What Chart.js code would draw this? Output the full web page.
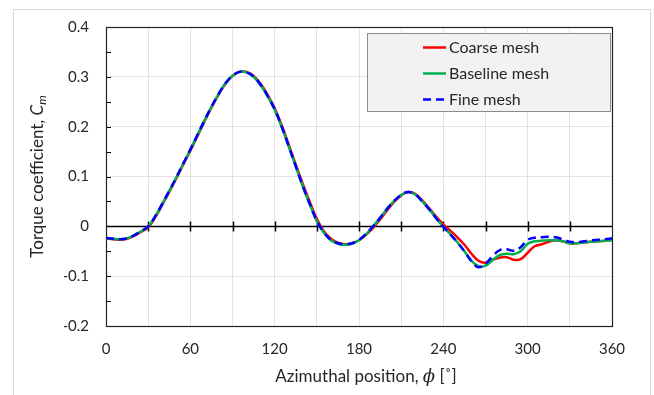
<!DOCTYPE html>
<html>
<head>
<meta charset="utf-8">
<script src="https://cdn.jsdelivr.net/npm/chart.js@4.4.1/dist/chart.umd.min.js"></script>
<style>
  html, body { margin: 0; padding: 0; background: #fff; }
  #wrap { width: 654px; height: 395px; position: relative; }
</style>
</head>
<body>
<div id="wrap"><canvas id="torqueChart"></canvas></div>
<script>
const angles = [0, 5, 10, 15, 20, 25, 30, 35, 40, 45, 50, 55, 60, 65, 70, 75, 80, 85, 90, 95,
  100, 105, 110, 115, 120, 125, 130, 135, 140, 145, 150, 155, 160, 165, 170, 175, 180, 185, 190, 195,
  200, 205, 210, 215, 220, 225, 230, 235, 240, 245, 250, 255, 260, 265, 270, 275, 280, 285, 290, 295,
  300, 305, 310, 315, 320, 325, 330, 335, 340, 345, 350, 355, 360];

const coarse = [-0.024, -0.026, -0.027, -0.025, -0.019, -0.011, -0.002, 0.018, 0.043, 0.069, 0.096, 0.124, 0.152, 0.181, 0.210, 0.238, 0.264, 0.286, 0.302, 0.310,
  0.310, 0.302, 0.286, 0.264, 0.237, 0.203, 0.164, 0.124, 0.085, 0.049, 0.015, -0.010, -0.025, -0.033, -0.036, -0.034, -0.028, -0.017, -0.003, 0.014,
  0.032, 0.049, 0.062, 0.069, 0.065, 0.052, 0.036, 0.019, 0.004, -0.009, -0.022, -0.037, -0.055, -0.069, -0.073, -0.067, -0.063, -0.062, -0.067, -0.066,
  -0.053, -0.040, -0.036, -0.031, -0.028, -0.030, -0.034, -0.034, -0.032, -0.031, -0.030, -0.029, -0.027];

const baseline = [-0.023, -0.025, -0.026, -0.024, -0.018, -0.010, 0.000, 0.020, 0.045, 0.071, 0.098, 0.126, 0.154, 0.183, 0.212, 0.240, 0.265, 0.287, 0.302, 0.310,
  0.309, 0.300, 0.283, 0.261, 0.234, 0.199, 0.160, 0.120, 0.080, 0.044, 0.010, -0.013, -0.028, -0.035, -0.037, -0.035, -0.028, -0.016, 0.000, 0.017,
  0.035, 0.051, 0.063, 0.069, 0.064, 0.050, 0.034, 0.016, -0.001, -0.016, -0.032, -0.050, -0.069, -0.080, -0.079, -0.068, -0.058, -0.055, -0.056, -0.050,
  -0.035, -0.030, -0.029, -0.028, -0.028, -0.030, -0.034, -0.034, -0.032, -0.031, -0.030, -0.029, -0.028];

const fine = [-0.023, -0.025, -0.026, -0.024, -0.018, -0.010, 0.000, 0.020, 0.045, 0.071, 0.098, 0.126, 0.154, 0.183, 0.212, 0.240, 0.265, 0.287, 0.302, 0.310,
  0.309, 0.301, 0.284, 0.262, 0.235, 0.200, 0.161, 0.121, 0.081, 0.045, 0.011, -0.012, -0.027, -0.034, -0.036, -0.034, -0.027, -0.015, 0.000, 0.017,
  0.035, 0.051, 0.063, 0.069, 0.064, 0.050, 0.034, 0.016, -0.001, -0.016, -0.032, -0.050, -0.070, -0.082, -0.075, -0.060, -0.048, -0.046, -0.049, -0.042,
  -0.027, -0.023, -0.022, -0.021, -0.022, -0.026, -0.031, -0.032, -0.030, -0.028, -0.027, -0.026, -0.024];

const seriesLabels = ["Coarse mesh", "Baseline mesh", "Fine mesh"];
const xLabelStep = 60;
const yLabelStep = 0.1;

const FONT = "Lato, 'Open Sans', sans-serif";
const TEXT = "#262626";

const toPoints = (vals) => angles.map((a, i) => ({ x: a, y: vals[i] }));

// frame, zero line, minor ticks, titles, legend
const decorations = {
  id: "decorations",
  beforeDraw(chart) {
    const { ctx } = chart;
    ctx.save();
    ctx.strokeStyle = "#d9d9d9";
    ctx.lineWidth = 1;
    ctx.strokeRect(13.5, 9.5, 637, 400);
    ctx.restore();
  },
  beforeDatasetsDraw(chart) {
    const { ctx, chartArea: a, scales } = chart;
    const x = scales.x, y = scales.y;
    ctx.save();
    ctx.strokeStyle = "#000";
    ctx.lineWidth = 1;
    // minor ticks on the left axis
    for (let v = -0.2; v <= 0.4001; v += 0.05) {
      const py = Math.round(y.getPixelForValue(v)) + 0.5;
      ctx.beginPath();
      ctx.moveTo(a.left, py);
      ctx.lineTo(a.left + 5, py);
      ctx.stroke();
    }
    // zero line with cross ticks
    const y0 = Math.round(y.getPixelForValue(0)) + 0.5;
    ctx.lineWidth = 1.5;
    ctx.beginPath();
    ctx.moveTo(a.left, y0);
    ctx.lineTo(a.right, y0);
    ctx.stroke();
    for (let v = 30; v < 360; v += 30) {
      const px = Math.round(x.getPixelForValue(v)) + 0.5;
      ctx.beginPath();
      ctx.moveTo(px, y0 - 5);
      ctx.lineTo(px, y0 + 5);
      ctx.stroke();
    }
    // plot box
    ctx.lineWidth = 1.2;
    ctx.strokeStyle = "#222";
    ctx.strokeRect(Math.round(a.left) + 0.5, Math.round(a.top) + 0.5,
      Math.round(a.right - a.left), Math.round(a.bottom - a.top));
    ctx.restore();
  },
  afterDraw(chart) {
    const { ctx, chartArea: a } = chart;
    ctx.save();
    ctx.fillStyle = TEXT;
    ctx.textBaseline = "middle";

    // x title
    const xParts = [
      { t: "Azimuthal position, ", f: "17px " + FONT },
      { t: "\u03d5", f: "italic 18px 'DejaVu Serif', serif" },
      { t: " [\u02da]", f: "17px " + FONT },
    ];
    let w = 0;
    xParts.forEach((p) => { ctx.font = p.f; w += ctx.measureText(p.t).width; });
    let cx = 366 - w / 2;
    xParts.forEach((p) => {
      ctx.font = p.f;
      ctx.textAlign = "left";
      ctx.fillText(p.t, cx, 377);
      cx += ctx.measureText(p.t).width;
    });

    // y title (rotated)
    ctx.translate(38, (a.top + a.bottom) / 2);
    ctx.rotate(-Math.PI / 2);
    const yParts = [
      { t: "Torque coefficient, ", f: "17px " + FONT, dy: 0 },
      { t: "C", f: "italic 17px " + FONT, dy: 0 },
      { t: "m", f: "italic 12px " + FONT, dy: 4 },
    ];
    w = 0;
    yParts.forEach((p) => { ctx.font = p.f; w += ctx.measureText(p.t).width; });
    cx = -w / 2;
    yParts.forEach((p) => {
      ctx.font = p.f;
      ctx.textAlign = "left";
      ctx.fillText(p.t, cx, p.dy);
      cx += ctx.measureText(p.t).width;
    });
    ctx.restore();

    // legend box
    ctx.save();
    ctx.fillStyle = "#f2f2f2";
    ctx.fillRect(367, 33, 243, 78);
    ctx.strokeStyle = "#8c8c8c";
    ctx.lineWidth = 1;
    ctx.strokeRect(367.5, 33.5, 243, 78);
    const rows = [47, 73, 99];
    chart.data.datasets.forEach((ds, i) => {
      const ly = rows[i] + 0.5;
      ctx.strokeStyle = ds.borderColor;
      ctx.lineWidth = ds.borderWidth;
      ctx.setLineDash(ds.borderDash || []);
      ctx.beginPath();
      ctx.moveTo(423, ly);
      ctx.lineTo(446, ly);
      ctx.stroke();
      ctx.setLineDash([]);
      ctx.fillStyle = TEXT;
      ctx.font = "16px " + FONT;
      ctx.textAlign = "left";
      ctx.textBaseline = "middle";
      ctx.fillText(ds.label, 449, rows[i] + 1);
    });
    ctx.restore();
  },
};

new Chart(document.getElementById("torqueChart"), {
  type: "line",
  data: {
    datasets: [
      { label: seriesLabels[0], data: toPoints(coarse), borderColor: "#ff0000", borderWidth: 2.5, order: 3 },
      { label: seriesLabels[1], data: toPoints(baseline), borderColor: "#00b050", borderWidth: 2.5, order: 2 },
      { label: seriesLabels[2], data: toPoints(fine), borderColor: "#0000ff", borderWidth: 2.5, borderDash: [8, 5], order: 1 },
    ],
  },
  options: {
    responsive: true,
    maintainAspectRatio: false,
    animation: false,
    layout: { padding: { left: 64, right: 42, top: 27, bottom: 37 } },
    elements: {
      point: { radius: 0 },
      line: { tension: 0.4, fill: false },
    },
    scales: {
      x: {
        type: "linear",
        min: 0,
        max: 360,
        afterFit: (s) => { s.height = 32; },
        border: { display: false },
        grid: { color: "#e3e3e3", drawTicks: false },
        ticks: {
          stepSize: 30,
          padding: 14,
          color: TEXT,
          font: { family: FONT, size: 15 },
          callback: (v) => (v % xLabelStep === 0 ? String(v) : ""),
        },
      },
      y: {
        min: -0.2,
        max: 0.4,
        afterFit: (s) => { s.width = 42; },
        border: { display: false },
        grid: {
          drawTicks: false,
          color: (c) => {
            const v = Math.round(c.tick.value * 100);
            return v % 10 === 0 && v !== 0 ? "#e3e3e3" : "transparent";
          },
        },
        ticks: {
          stepSize: 0.05,
          padding: 17,
          color: TEXT,
          font: { family: FONT, size: 15 },
          callback: (v) => {
            const r = Math.round(v * 100);
            if (r % Math.round(yLabelStep * 100) !== 0) return "";
            return r === 0 ? "0" : String(r / 100);
          },
        },
      },
    },
    plugins: {
      legend: { display: false },
      tooltip: { enabled: false },
    },
  },
  plugins: [decorations],
});
</script>
</body>
</html>
